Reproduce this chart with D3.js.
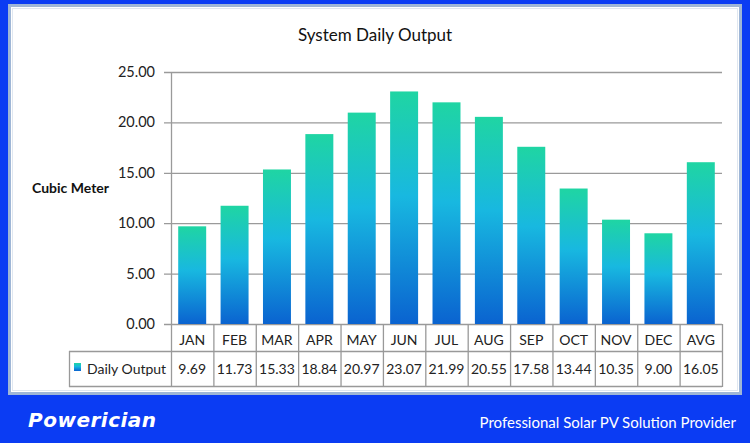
<!DOCTYPE html>
<html><head><meta charset="utf-8">
<script src="https://cdn.jsdelivr.net/npm/d3@7"></script>
<style>body{margin:0;background:#0b3cf3;}svg{display:block;}</style>
</head><body>
<script>
const categories = ["JAN","FEB","MAR","APR","MAY","JUN","JUL","AUG","SEP","OCT","NOV","DEC","AVG"];
const dailyOutput = [9.69,11.73,15.33,18.84,20.97,23.07,21.99,20.55,17.58,13.44,10.35,9.00,16.05];
const yTicks = [0,5,10,15,20,25];
const seriesName = "Daily Output";
const title = "System Daily Output";
const yLabel = "Cubic Meter";

const W=750,H=443;
const svg=d3.select("body").append("svg").attr("width",W).attr("height",H);
const defs=svg.append("defs");
const g1=defs.append("linearGradient").attr("id","barg").attr("x1",0).attr("y1",0).attr("x2",0).attr("y2",1);
g1.append("stop").attr("offset","0%").attr("stop-color","#1fd5a3");
g1.append("stop").attr("offset","45%").attr("stop-color","#18b8e0");
g1.append("stop").attr("offset","100%").attr("stop-color","#0a63d0");

svg.append("rect").attr("width",W).attr("height",H).attr("fill","#0b3cf3");
// panel
svg.append("rect").attr("x",9.5).attr("y",5.5).attr("width",731).attr("height",388).attr("fill","#fff").attr("stroke","#9fb6d6").attr("stroke-width",3);
svg.append("rect").attr("x",12.5).attr("y",8.5).attr("width",725).attr("height",382).attr("fill","none").attr("stroke","#dfe7f1").attr("stroke-width",1);

const font="Lato, 'Open Sans', sans-serif";
const x=d3.scaleBand().domain(categories).range([171,722]).paddingInner(0.34).paddingOuter(0.17);
const y=d3.scaleLinear().domain([0,25]).range([324,72]);

// gridlines
svg.append("g").selectAll("line").data(yTicks).join("line")
 .attr("x1",164).attr("x2",722).attr("y1",d=>y(d)+0.5).attr("y2",d=>y(d)+0.5)
 .attr("stroke","#9a9a9a").attr("stroke-width",1.3);
// axis line
svg.append("line").attr("x1",171.5).attr("x2",171.5).attr("y1",72).attr("y2",386).attr("stroke","#9a9a9a").attr("stroke-width",1.3);
// tick labels
svg.append("g").selectAll("text").data(yTicks).join("text")
 .attr("x",155).attr("y",d=>y(d)+5).attr("text-anchor","end")
 .attr("font-family",font).attr("font-size",14.5).attr("fill","#222")
 .text(d=>d.toFixed(2));

// bars
svg.append("g").selectAll("rect").data(dailyOutput).join("rect")
 .attr("x",(d,i)=>x(categories[i])).attr("width",x.bandwidth())
 .attr("y",d=>y(d)).attr("height",d=>y(0)-y(d)).attr("fill","url(#barg)");

// title
svg.append("text").attr("x",375).attr("y",41).attr("text-anchor","middle")
 .attr("font-family",font).attr("font-size",17).attr("fill","#111").text(title);
svg.append("text").attr("x",32).attr("y",193)
 .attr("font-family",font).attr("font-weight","bold").attr("font-size",14).attr("fill","#111").text(yLabel);

// data table
const step=x.step();
const colX=i=>171+i*step;
const tbl=svg.append("g");
const stroke="#999";
tbl.append("line").attr("x1",69).attr("x2",722).attr("y1",351.5).attr("y2",351.5).attr("stroke",stroke).attr("stroke-width",1.3);
tbl.append("line").attr("x1",69).attr("x2",722).attr("y1",386.5).attr("y2",386.5).attr("stroke",stroke).attr("stroke-width",1.3);
tbl.append("line").attr("x1",69.5).attr("x2",69.5).attr("y1",351).attr("y2",387).attr("stroke",stroke).attr("stroke-width",1.3);
tbl.selectAll("line.v").data(d3.range(1,categories.length+1)).join("line").attr("class","v")
 .attr("x1",i=>colX(i)+0.5).attr("x2",i=>colX(i)+0.5).attr("y1",324).attr("y2",387)
 .attr("stroke",stroke).attr("stroke-width",1.3);
tbl.selectAll("text.c").data(categories).join("text").attr("class","c")
 .attr("x",d=>x(d)+x.bandwidth()/2).attr("y",345).attr("text-anchor","middle")
 .attr("font-family",font).attr("font-size",14).attr("fill","#222").text(d=>d);
tbl.selectAll("text.v").data(dailyOutput).join("text").attr("class","v")
 .attr("x",(d,i)=>x(categories[i])+x.bandwidth()/2).attr("y",374).attr("text-anchor","middle")
 .attr("font-family",font).attr("font-size",14).attr("fill","#222").text(d=>d.toFixed(2));
tbl.append("rect").attr("x",74).attr("y",363).attr("width",7).attr("height",8).attr("fill","url(#barg)");
tbl.append("text").attr("x",87).attr("y",374).attr("font-family",font).attr("font-size",14).attr("fill","#222").text(seriesName);

// footer
svg.append("text").attr("x",28).attr("y",427).attr("font-family","'DejaVu Sans', sans-serif").attr("font-style","italic").attr("font-weight","bold")
 .attr("font-size",20).attr("fill","#fff").attr("letter-spacing",0.5).text("Powerician");
svg.append("text").attr("x",736).attr("y",428).attr("text-anchor","end").attr("font-family",font)
 .attr("font-size",15).attr("fill","#fff").text("Professional Solar PV Solution Provider");
</script>
</body></html>
